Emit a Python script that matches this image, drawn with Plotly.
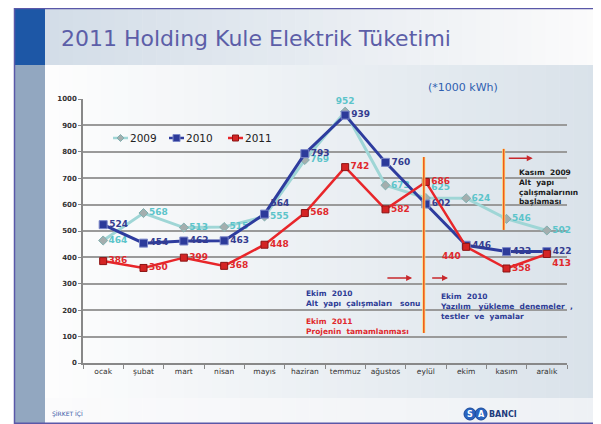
import plotly.graph_objects as go

months = ["ocak", "şubat", "mart", "nisan", "mayıs", "haziran", "temmuz",
          "ağustos", "eylül", "ekim", "kasım", "aralık"]
v2009 = [464, 568, 513, 515, 555, 769, 952, 673, 625, 624, 546, 502]
v2010 = [524, 454, 462, 463, 564, 793, 939, 760, 602, 446, 422, 422]
v2011 = [386, 360, 399, 368, 448, 568, 742, 582, 686, 440, 358, 413]
y_ticks = [0, 100, 200, 300, 400, 500, 600, 700, 800, 900, 1000]
series_names = ["2009", "2010", "2011"]

pos2009 = ["middle right"] * 12
pos2009[6] = "top center"
pos2009[8] = "top right"
pos2010 = ["middle right"] * 12
pos2010[4] = "top right"
pos2011 = ["middle right"] * 12
pos2011[9] = "bottom left"
pos2011[11] = "bottom right"

# page body has an 8px margin: figure is drawn offset by (8, 8)
OX, OY = 8, 8
W, H = 601 - OX, 424 - OY
# plot area in reference page pixels
PL, PR, PT, PB = 83, 567, 99, 363


def px(x):
    return (x - PL) / (PR - PL)


def py(y):
    return (PB - y) / (PB - PT)


def lerp(c1, c2, t):
    a = [int(c1[i:i + 2], 16) for i in (1, 3, 5)]
    b = [int(c2[i:i + 2], 16) for i in (1, 3, 5)]
    return "#%02x%02x%02x" % tuple(round(a[k] + (b[k] - a[k]) * t) for k in range(3))


line_cols = ["#9fd6d6", "#2e3c9e", "#e8262a"]
marker_cols = ["#a4aeae", "#2c3a9a", "#d42424"]
marker_edge = ["#7fb0b0", "#7c88c8", "#8c1414"]

fig = go.Figure()

fig.add_trace(go.Scatter(
    x=months, y=v2009, name=series_names[0], mode="lines+markers+text",
    line=dict(color=line_cols[0], width=3),
    marker=dict(symbol="diamond", size=7, color=marker_cols[0], line=dict(color=marker_edge[0], width=1)),
    text=[str(v) for v in v2009], textposition=pos2009, cliponaxis=False,
    textfont=dict(color="#5cc4ca", size=9, family="DejaVu Sans", weight="bold"),
))
fig.add_trace(go.Scatter(
    x=months, y=v2010, name=series_names[1], mode="lines+markers+text",
    line=dict(color=line_cols[1], width=3),
    marker=dict(symbol="square", size=8, color=marker_cols[1], line=dict(color=marker_edge[1], width=1)),
    text=[str(v) for v in v2010], textposition=pos2010, cliponaxis=False,
    textfont=dict(color="#343c90", size=9, family="DejaVu Sans", weight="bold"),
))
fig.add_trace(go.Scatter(
    x=months, y=v2011, name=series_names[2], mode="lines+markers+text",
    line=dict(color=line_cols[2], width=2.5),
    marker=dict(symbol="square", size=7, color=marker_cols[2], line=dict(color=marker_edge[2], width=1)),
    text=[str(v) for v in v2011], textposition=pos2011, cliponaxis=False,
    textfont=dict(color="#e0282c", size=9, family="DejaVu Sans", weight="bold"),
))

shapes = []
N = 40
x0, x1 = 45, 601
for i in range(N):
    a = x0 + (x1 - x0) * i / N
    b = x0 + (x1 - x0) * (i + 1) / N + 0.5
    t = i / (N - 1)
    shapes.append(dict(type="rect", xref="paper", yref="paper", layer="below",
                       x0=px(a), x1=px(b), y0=py(65), y1=py(398),
                       fillcolor=lerp("#fdfdfd", "#d9e2ea", t), line_width=0))
    shapes.append(dict(type="rect", xref="paper", yref="paper", layer="below",
                       x0=px(a), x1=px(b), y0=py(8), y1=py(65),
                       fillcolor=lerp("#d3dde8", "#fbfbfb", t), line_width=0))
    shapes.append(dict(type="rect", xref="paper", yref="paper", layer="below",
                       x0=px(a), x1=px(b), y0=py(398), y1=py(423),
                       fillcolor=lerp("#fbfbfc", "#eef1f5", t), line_width=0))
shapes.append(dict(type="rect", xref="paper", yref="paper", layer="below",
                   x0=px(15), x1=px(45), y0=py(8), y1=py(65),
                   fillcolor="#1d57a6", line_width=0))
shapes.append(dict(type="rect", xref="paper", yref="paper", layer="below",
                   x0=px(15), x1=px(45), y0=py(65), y1=py(423),
                   fillcolor="#92a7c0", line_width=0))
shapes.append(dict(type="rect", xref="paper", yref="paper", layer="below",
                   x0=px(14.5), x1=px(599.5), y0=py(8.5), y1=py(423.3),
                   fillcolor="rgba(0,0,0,0)", line=dict(color="#5a58a8", width=1.5)))
for xv, ya, yb in [(7.95, 780, 114), (9.93, 811, 504)]:
    shapes.append(dict(type="line", xref="x", yref="y", x0=xv, x1=xv, y0=ya, y1=yb,
                       line=dict(color="#fbe27a", width=3)))
    shapes.append(dict(type="line", xref="x", yref="y", x0=xv, x1=xv, y0=ya, y1=yb,
                       line=dict(color="#f05a1e", width=1.6)))
for cx in (470, 481):
    shapes.append(dict(type="circle", xref="paper", yref="paper",
                       x0=px(cx - 6), x1=px(cx + 6), y0=py(408), y1=py(420),
                       fillcolor="#2a64c0", line=dict(color="#1a4a9a", width=1)))

ann = []

# custom compact legend
leg_x = [113, 169, 228]
leg_y = 138
for k, name in enumerate(series_names):
    lx = leg_x[k]
    shapes.append(dict(type="line", xref="paper", yref="paper",
                       x0=px(lx), x1=px(lx + 15), y0=py(leg_y), y1=py(leg_y),
                       line=dict(color=line_cols[k], width=2.5)))
    cx = lx + 7.5
    if k == 0:
        path = "M %f %f L %f %f L %f %f L %f %f Z" % (
            px(cx - 3.5), py(leg_y), px(cx), py(leg_y - 3.5),
            px(cx + 3.5), py(leg_y), px(cx), py(leg_y + 3.5))
        shapes.append(dict(type="path", xref="paper", yref="paper", path=path,
                           fillcolor=marker_cols[k], line=dict(color=marker_edge[k], width=1)))
    else:
        s = 3.5 if k == 1 else 3
        shapes.append(dict(type="rect", xref="paper", yref="paper",
                           x0=px(cx - s), x1=px(cx + s), y0=py(leg_y + s), y1=py(leg_y - s),
                           fillcolor=marker_cols[k], line=dict(color=marker_edge[k], width=1)))
    ann.append(dict(xref="paper", yref="paper", x=px(lx + 15), y=py(leg_y), xanchor="left",
                    yanchor="middle", text=name, showarrow=False,
                    font=dict(family="DejaVu Sans", size=10.5, color="#222222")))

ann.append(dict(xref="paper", yref="paper", x=px(59), y=py(38), xanchor="left", yanchor="middle",
                text="2011 Holding Kule Elektrik Tüketimi", showarrow=False,
                font=dict(family="DejaVu Sans", size=22, color="#5c5ea8")))
ann.append(dict(xref="paper", yref="paper", x=px(463), y=py(88), xanchor="center", yanchor="middle",
                text="(*1000 kWh)", showarrow=False,
                font=dict(family="DejaVu Sans", size=11, color="#2f5fb0")))
ann.append(dict(xref="paper", yref="paper", x=px(50), y=py(414), xanchor="left", yanchor="middle",
                text="ŞİRKET İÇİ", showarrow=False,
                font=dict(family="DejaVu Sans", size=6, color="#3a5aa8")))
for cx, letter in [(470, "S"), (481, "A")]:
    ann.append(dict(xref="paper", yref="paper", x=px(cx), y=py(414), xanchor="center", yanchor="middle",
                    text=letter, showarrow=False,
                    font=dict(family="DejaVu Sans", size=8, color="white", weight="bold")))
ann.append(dict(xref="paper", yref="paper", x=px(487), y=py(414), xanchor="left", yanchor="middle",
                text="BANCI", showarrow=False,
                font=dict(family="DejaVu Sans", size=8, color="#1e3c7c", weight="bold")))

for xa, xb, yv in [(7.01, 7.66, 322), (8.12, 8.55, 322), (10.02, 10.65, 776)]:
    ann.append(dict(xref="x", yref="y", axref="x", ayref="y", x=xb, y=yv, ax=xa, ay=yv,
                    text="", showarrow=True, arrowhead=2, arrowsize=0.8, arrowwidth=1.5,
                    arrowcolor="#c8282c"))

tf = dict(family="DejaVu Sans", size=7.5, weight="bold")
ann.append(dict(xref="x", yref="y", x=10.27, y=668, xanchor="left", yanchor="middle", align="left",
                text="Kasım  2009<br>Alt  yapı<br>çalışmalarının<br>başlaması", showarrow=False,
                font=dict(tf, color="#1a1a1a")))
ann.append(dict(xref="x", yref="y", x=4.98, y=244, xanchor="left", yanchor="middle", align="left",
                text="Ekim  2010<br>Alt  yapı  çalışmaları   sonu", showarrow=False,
                font=dict(tf, color="#2e3c96")))
ann.append(dict(xref="x", yref="y", x=4.98, y=137, xanchor="left", yanchor="middle", align="left",
                text="Ekim  2011<br>Projenin  tamamlanması", showarrow=False,
                font=dict(tf, color="#e0282c")))
ann.append(dict(xref="x", yref="y", x=8.3, y=215, xanchor="left", yanchor="middle", align="left",
                text="Ekim  2010<br>Yazılım   yükleme  denemeler  ,<br>testler  ve  yamalar", showarrow=False,
                font=dict(tf, color="#2e3c96")))

fig.update_layout(
    width=W, height=H,
    margin=dict(l=PL - OX, r=W - (PR - OX), t=PT - OY, b=H - (PB - OY)),
    paper_bgcolor="white", plot_bgcolor="rgba(0,0,0,0)",
    shapes=shapes, annotations=ann,
    showlegend=False,
    xaxis=dict(type="category", categoryorder="array", categoryarray=months,
               range=[-0.5, 11.5], tickson="boundaries", ticks="outside", ticklen=4,
               tickcolor="#888888", showgrid=False, showline=True, linecolor="#888888",
               linewidth=1.5, tickfont=dict(family="DejaVu Sans", size=7.5, color="#333333"),
               fixedrange=True),
    yaxis=dict(range=[0, 1000], tickvals=y_ticks, ticktext=[str(v) for v in y_ticks],
               showgrid=True, gridcolor="#9a9a9a", gridwidth=1.5, showline=True,
               linecolor="#888888", linewidth=1.5, ticks="outside", ticklen=3,
               tickcolor="#888888", zeroline=False,
               tickfont=dict(family="DejaVu Sans", size=7, color="#333333", weight="bold"),
               fixedrange=True),
)

fig.write_html("out.html")
